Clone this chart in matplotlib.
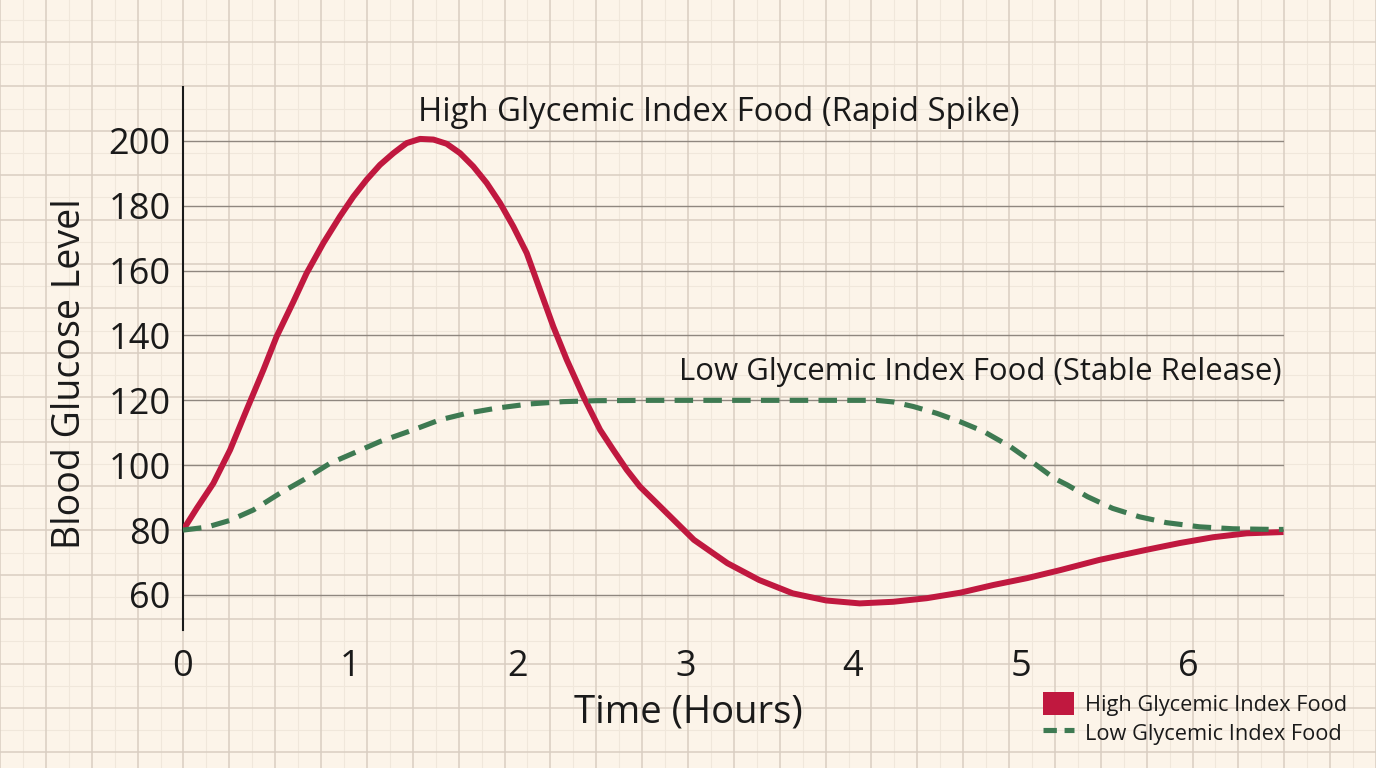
import numpy as np
import matplotlib.pyplot as plt
from matplotlib.patches import Patch
from matplotlib.lines import Line2D

plt.rcParams['font.family'] = ['Open Sans', 'DejaVu Sans']

# data (time in hours, glucose level)
high_t = [0, 0.082, 0.181, 0.281, 0.380, 0.480, 0.559, 0.659, 0.738, 0.838, 0.937, 1.017,
          1.096, 1.176, 1.256, 1.335, 1.415, 1.495, 1.574, 1.654, 1.733, 1.813, 1.893,
          1.972, 2.052, 2.131, 2.211, 2.291, 2.390, 2.490, 2.569, 2.649, 2.728, 2.85,
          3.05, 3.25, 3.44, 3.64, 3.84, 4.04, 4.24, 4.44, 4.64, 4.84, 5.04, 5.24, 5.47,
          5.75, 5.95, 6.15, 6.35, 6.57]
high_v = [80, 86.7, 94.4, 104.7, 117.1, 129.4, 139.7, 150.4, 159.2, 168.5, 176.7, 182.8,
          188.0, 192.6, 196.2, 199.3, 200.6, 200.4, 199.1, 196.2, 192.1, 187.0, 180.8,
          173.6, 165.4, 154.1, 142.7, 132.5, 121.2, 110.9, 104.7, 98.6, 93.4, 87.2,
          77, 69.8, 64.6, 60.5, 58.3, 57.4, 57.9, 59, 60.7, 63.1, 65.2, 67.7, 70.8,
          73.9, 76, 77.8, 79, 79.4]

low_t = [0, 0.141, 0.281, 0.42, 0.58, 0.72, 0.878, 1.017, 1.176, 1.375, 1.534, 1.694,
         1.873, 2.07, 2.27, 2.47, 2.8, 3.2, 3.6, 4.0, 4.14, 4.24, 4.36, 4.50, 4.64, 4.78,
         4.94, 5.08, 5.20, 5.28, 5.40, 5.55, 5.71, 5.87, 6.07, 6.27, 6.51, 6.57]
low_v = [80, 80.9, 83.0, 86.2, 91.4, 95.5, 100.6, 103.7, 107.3, 110.9, 114, 116.0,
         117.6, 118.9, 119.6, 119.9, 120, 120, 120, 120, 120, 119.5, 118.1, 116, 113.4, 110.4,
         105.7, 100.6, 96, 93.9, 90.3, 86.7, 84.1, 82.3, 81.0, 80.4, 80.2, 80.2]

x_ticks = [0, 1, 2, 3, 4, 5, 6]
y_ticks = [60, 80, 100, 120, 140, 160, 180, 200]

high_label = 'High Glycemic Index Food'
low_label = 'Low Glycemic Index Food'
high_note = 'High Glycemic Index Food (Rapid Spike)'
low_note = 'Low Glycemic Index Food (Stable Release)'

RED = '#C0183F'
GREEN = '#3E7A52'
TXT = '#1A1A1A'

W, H = 1376, 768
fig = plt.figure(figsize=(W / 100, H / 100), dpi=100)
fig.patch.set_facecolor('#FCF4E9')

# graph paper background over the whole figure
bg = fig.add_axes([0, 0, 1, 1])
bg.set_xlim(0, W)
bg.set_ylim(H, 0)
bg.axis('off')
sx = W / 30
sy = 44.4
for x in np.arange(sx / 2, W, sx):
    bg.axvline(x, color='#F0E7DB', lw=0.8)
for y in np.arange(42 - sy / 2, H, sy):
    bg.axhline(y, color='#F0E7DB', lw=0.8)
for x in np.arange(0, W + 1, sx):
    bg.axvline(x, color='#D9CEC1', lw=1.1)
for y in np.arange(42 - sy, H, sy):
    bg.axhline(y, color='#D9CEC1', lw=1.1)

# main axes
ax = fig.add_axes([183 / W, (H - 630) / H, 1101 / W, 543 / H])
ax.patch.set_alpha(0)
ax.set_xlim(0, 6.573)
ax.set_ylim(49.2, 216.6)

ax.plot(high_t, high_v, color=RED, lw=4.3, solid_capstyle='butt', solid_joinstyle='round', zorder=3)
ax.plot(low_t, low_v, color=GREEN, lw=3.7, linestyle=(0, (3.6, 2.0)), zorder=3)

ax.set_xticks(x_ticks)
ax.set_yticks(y_ticks)
ax.grid(axis='y', color='#8F877F', lw=1.0)
ax.tick_params(length=0, labelsize=26, labelcolor=TXT)
ax.tick_params(axis='y', pad=9)
ax.tick_params(axis='x', pad=14)
for s in ['top', 'right', 'bottom']:
    ax.spines[s].set_visible(False)
ax.spines['left'].set_color('#1A1A1A')
ax.spines['left'].set_linewidth(1.5)

ax.set_xlabel('Time (Hours)', fontsize=27.5, color=TXT)
ax.xaxis.label.set_verticalalignment('center')
ax.xaxis.set_label_coords((688 - 183) / 1101, (630 - 713) / 543)
ax.set_ylabel('Blood Glucose Level', fontsize=27, color=TXT)
ax.yaxis.label.set_verticalalignment('center')
ax.yaxis.set_label_coords((70 - 183) / 1101, (630 - 374) / 543)

ax.text(3.2, 208.6, high_note, ha='center', va='center', fontsize=23.7, color=TXT)
ax.text(4.76, 128.8, low_note, ha='center', va='center', fontsize=22.4, color=TXT)

handles = [Patch(facecolor=RED, edgecolor='none', label=high_label),
           Line2D([0], [0], color=GREEN, lw=3.7, linestyle=(0, (2.6, 1.5)), label=low_label)]
fig.legend(handles=handles, loc='upper left', bbox_to_anchor=(1023 / W, 1 - 672 / H),
           frameon=False, fontsize=15.7, handlelength=1.45, handleheight=1.3,
           handletextpad=0.5, labelspacing=0.22, labelcolor=TXT)

fig.savefig('out.png', dpi=100, facecolor=fig.get_facecolor())
